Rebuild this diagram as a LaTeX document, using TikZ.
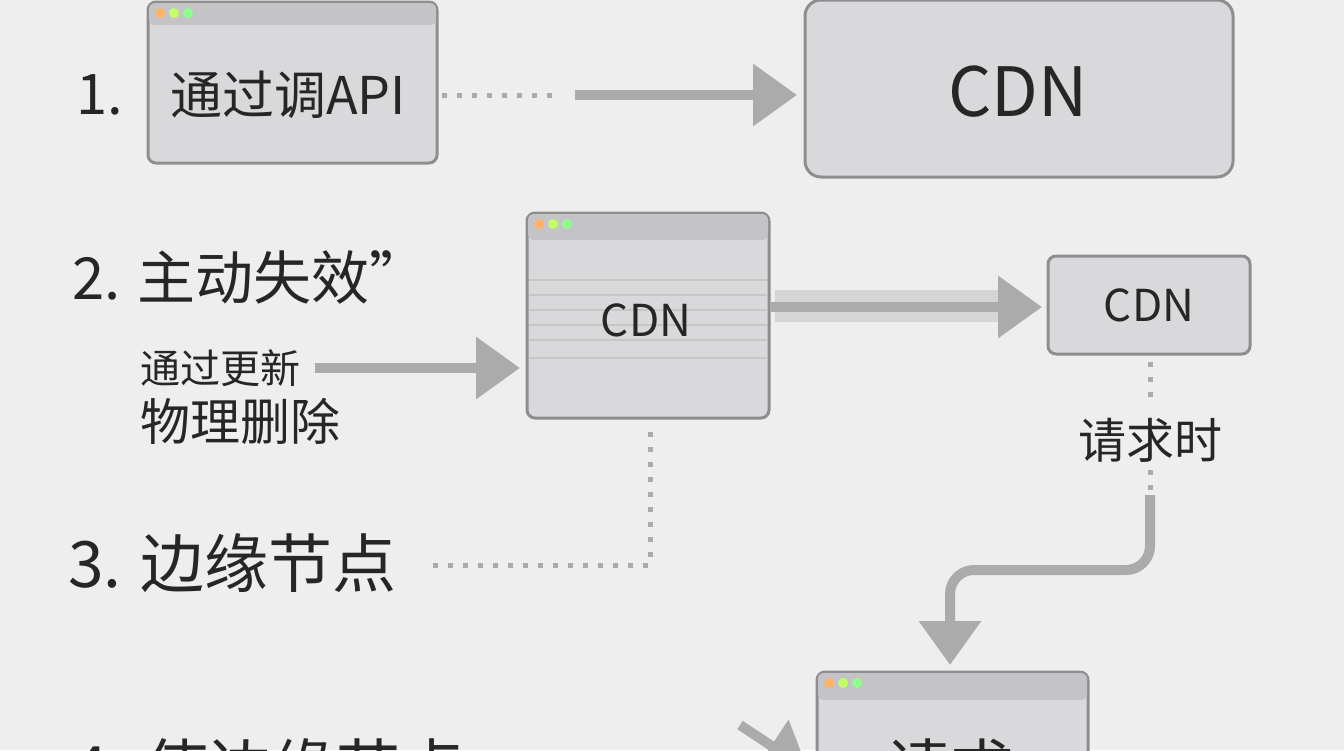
\documentclass[tikz,border=0pt]{standalone}
\usepackage{fontspec}
\setmainfont{Noto Sans CJK SC}
\usetikzlibrary{positioning,arrows.meta,calc}
\definecolor{paper}{HTML}{EEEEEE}
\definecolor{boxfill}{HTML}{D9D9DB}
\definecolor{barfill}{HTML}{C4C4C6}
\definecolor{edge}{HTML}{8E8E90}
\definecolor{flow}{HTML}{ABABAB}
\tikzset{
  win/.style={draw=edge,line width=1.5pt,fill=boxfill,rounded corners=4pt},
  flowline/.style={draw=flow,line width=5pt,-{Triangle[length=22pt,width=30pt]}},
  dotline/.style={draw=flow,line width=2.5pt,dash pattern=on 2.5pt off 5pt},
  lbl/.style={text=black!85,inner sep=0pt}
}
\newcommand{\windots}[1]{%
  \fill[orange!60] ($(#1)+(12,11)$) circle (5);
  \fill[green!40!yellow!60] ($(#1)+(26,11)$) circle (5);
  \fill[green!45] ($(#1)+(40,11)$) circle (5);}
\begin{document}
\begin{tikzpicture}[x=0.5pt,y=-0.5pt,font=\fontsize{20}{22}\selectfont]
\clip (0,0) rectangle (1344,750);
\fill[paper] (0,0) rectangle (1344,750);
% window 1
\draw[win] (148,2) rectangle (437,163);
\fill[barfill,rounded corners=3pt] (149,3) rectangle (436,25);
\windots{148,2}
\node[lbl,font=\fontsize{26}{28}\selectfont] (api) at (288,95) {通过调API};
\node[lbl,font=\fontsize{28}{30}\selectfont] (one) at (100,95) {1.};
% big CDN
\draw[win,rounded corners=8pt] (805,0) rectangle (1233,177);
\node[lbl,font=\fontsize{34}{36}\selectfont] (cdnA) at (1018,92) {CDN};
\coordinate (apiEnd) at (560,95);
\draw[dotline] (442,95) -- (apiEnd);
\draw[flowline] (575,95) -- (797,95);
% step 2
\node[lbl,font=\fontsize{29}{31}\selectfont,anchor=west] (two) at (72,277) {2. 主动失效”};
\draw[win] (527,213) rectangle (769,418);
\fill[barfill,rounded corners=3pt] (528,214) rectangle (768,240);
\windots{527,213}
\foreach \y in {280,295,310,325,340,358} \draw[edge!50,line width=0.6pt] (529,\y) -- (767,\y);
\node[lbl,font=\fontsize{22}{24}\selectfont] (cdnB) at (646,320) {CDN};
\node[lbl,font=\fontsize{20}{22}\selectfont,anchor=west] (upd) at (140,368) {通过更新};
\node[lbl,font=\fontsize{25}{27}\selectfont,anchor=west] (del) at (140,421) {物理删除};
\draw[flowline] (315,368) -- (520,368);
\fill[flow!50] (775,290) rectangle (1000,322);
\draw[flowline] (771,307) -- (1042,307);
\draw[win] (1048,256) rectangle (1250,354);
\node[lbl,font=\fontsize{22}{24}\selectfont] (cdnC) at (1149,305) {CDN};
% request
\node[lbl,font=\fontsize{24}{26}\selectfont] (req) at (1150,440) {请求时};
\draw[dotline] (1150,362) -- (1150,405);
\draw[dotline] (1150,470) -- (1150,492);
\draw[draw=flow,line width=5pt,rounded corners=12pt,-{Triangle[length=22pt,width=30pt]}]
  (1150,495) -- (1150,570) -- (950,570) -- (950,665);
% step 3
\draw[dotline] (650,432) -- (650,565) -- (425,565);
\node[lbl,font=\fontsize{32}{34}\selectfont,anchor=west] (three) at (68,563) {3. 边缘节点};
% window 4
\draw[win] (817,672) rectangle (1088,790);
\fill[barfill,rounded corners=3pt] (818,673) rectangle (1087,700);
\windots{817,672}
\node[lbl,font=\fontsize{32}{34}\selectfont] (reqBox) at (950,768) {请求};
\node[lbl,font=\fontsize{32}{34}\selectfont,anchor=west] (four) at (72,768) {4. 使边缘节点};
\draw[flowline] (740,725) -- (808,770);
\end{tikzpicture}
\end{document}
